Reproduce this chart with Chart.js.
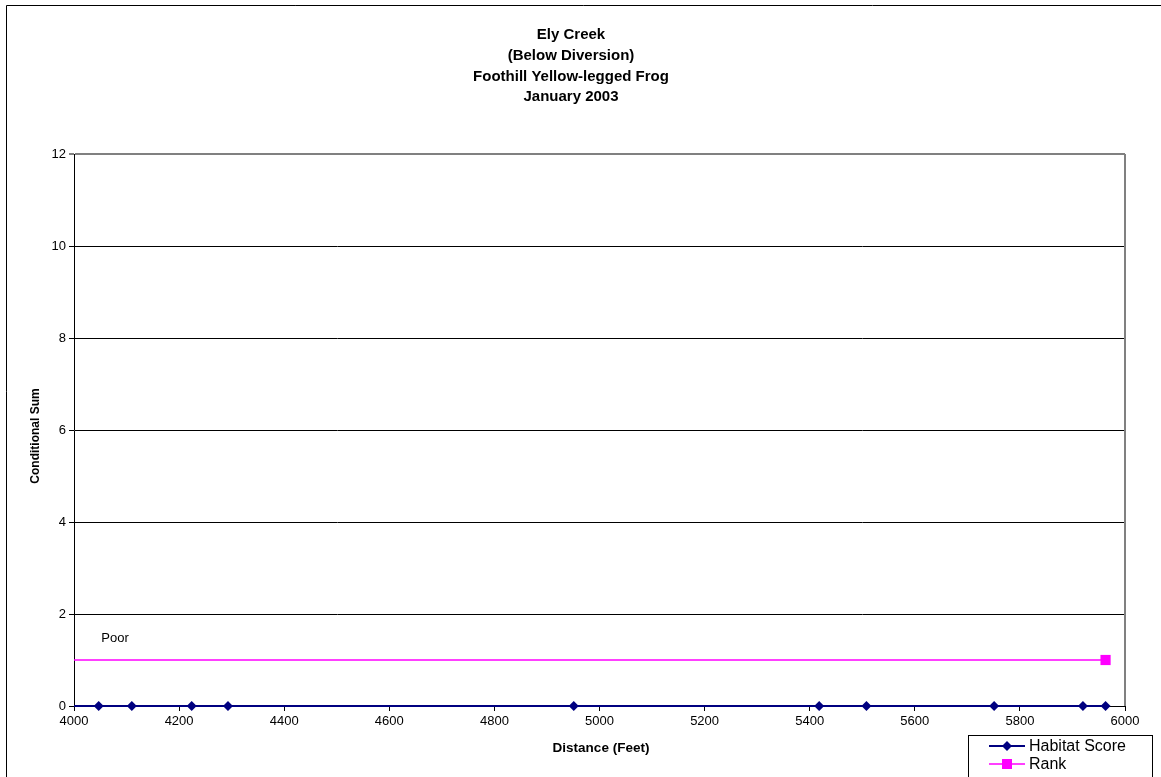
<!DOCTYPE html>
<html>
<head>
<meta charset="utf-8">
<script src="https://cdn.jsdelivr.net/npm/chart.js@4.4.0/dist/chart.umd.min.js"></script>
<style>
  html, body { margin: 0; padding: 0; background: #fff; }
  #wrap { width: 1161px; height: 777px; position: relative; }
</style>
</head>
<body>
<div id="wrap"><canvas id="frogChart" width="1161" height="777"></canvas></div>
<script>
const titleLines = ['Ely Creek', '(Below Diversion)', 'Foothill Yellow-legged Frog', 'January 2003'];
const xTitle = 'Distance (Feet)';
const yTitle = 'Conditional Sum';

// habitat score: distance (ft) vs score
const habitatX = [4000, 4047, 4110, 4224, 4293, 4951, 5418, 5508, 5751, 5920, 5963];
const habitatY = [0, 0, 0, 0, 0, 0, 0, 0, 0, 0, 0];
const habitatMarker = [false, true, true, true, true, true, true, true, true, true, true];

// rank line
const rankX = [4000, 5963];
const rankY = [1, 1];
const rankMarker = [false, true];
const rankLabel = 'Poor';
const rankLabelAt = [4050, 1.5];

const xMin = 4000, xMax = 6000, xStep = 200;
const yMin = 0, yMax = 12, yStep = 2;

const navy = '#000080';
const magenta = '#FF00FF';
const font = '"Liberation Sans", Arial, sans-serif';

// chart area left/right/top/bottom in px
const area = { left: 74, right: 1125, top: 154, bottom: 706 };

const decorPlugin = {
  id: 'decor',
  afterDraw(chart) {
    const ctx = chart.ctx;
    const ca = chart.chartArea;
    const xs = chart.scales.x, ys = chart.scales.y;
    ctx.save();

    // outer frame
    ctx.strokeStyle = '#000';
    ctx.lineWidth = 1;
    ctx.beginPath();
    ctx.moveTo(6.5, 777);
    ctx.lineTo(6.5, 5.5);
    ctx.lineTo(1161, 5.5);
    ctx.stroke();

    // plot area right border
    ctx.strokeStyle = '#808080';
    ctx.lineWidth = 2;
    ctx.beginPath();
    ctx.moveTo(ca.right, ca.top);
    ctx.lineTo(ca.right, ca.bottom);
    ctx.stroke();

    // titles
    ctx.fillStyle = '#000';
    ctx.font = 'bold 15px ' + font;
    ctx.textAlign = 'center';
    ctx.textBaseline = 'middle';
    titleLines.forEach((t, i) => ctx.fillText(t, 571, 35 + i * 20.7));

    // axis titles
    ctx.font = 'bold 13.5px ' + font;
    ctx.fillText(xTitle, 601, 748);
    ctx.font = 'bold 12px ' + font;
    ctx.save();
    ctx.translate(36, 436);
    ctx.rotate(-Math.PI / 2);
    ctx.fillText(yTitle, 0, 0);
    ctx.restore();

    // rank label
    ctx.font = '13px ' + font;
    ctx.textAlign = 'left';
    ctx.fillText(rankLabel, xs.getPixelForValue(rankLabelAt[0]) + 1, ys.getPixelForValue(rankLabelAt[1]) + 1);

    // legend
    ctx.fillStyle = '#fff';
    ctx.fillRect(968, 735, 184, 42);
    ctx.strokeStyle = '#000';
    ctx.lineWidth = 1;
    ctx.strokeRect(968.5, 735.5, 184, 42);
    const rows = [
      { label: 'Habitat Score', color: navy, shape: 'diamond', y: 746 },
      { label: 'Rank', color: magenta, shape: 'square', y: 764 }
    ];
    rows.forEach(r => {
      ctx.strokeStyle = r.color;
      ctx.lineWidth = r.shape === 'diamond' ? 2 : 1.5;
      ctx.beginPath();
      ctx.moveTo(989, r.y);
      ctx.lineTo(1025, r.y);
      ctx.stroke();
      ctx.fillStyle = r.color;
      ctx.beginPath();
      if (r.shape === 'diamond') {
        ctx.moveTo(1007, r.y - 5);
        ctx.lineTo(1012, r.y);
        ctx.lineTo(1007, r.y + 5);
        ctx.lineTo(1002, r.y);
        ctx.closePath();
      } else {
        ctx.rect(1002, r.y - 5, 10, 10);
      }
      ctx.fill();
      ctx.fillStyle = '#000';
      ctx.font = '16px ' + font;
      ctx.textAlign = 'left';
      ctx.fillText(r.label, 1029, r.y + 1);
    });

    ctx.restore();
  }
};

new Chart(document.getElementById('frogChart').getContext('2d'), {
  type: 'scatter',
  data: {
    datasets: [
      {
        label: 'Rank',
        data: rankX.map((x, i) => ({ x: x, y: rankY[i] })),
        showLine: true,
        borderColor: magenta,
        backgroundColor: magenta,
        borderWidth: 1.5,
        pointStyle: 'rect',
        pointRadius: rankMarker.map(m => m ? 7.2 : 0),
        pointHoverRadius: rankMarker.map(m => m ? 7.2 : 0),
        pointBorderWidth: 0,
        clip: false,
        order: 2
      },
      {
        label: 'Habitat Score',
        data: habitatX.map((x, i) => ({ x: x, y: habitatY[i] })),
        showLine: true,
        borderColor: navy,
        backgroundColor: navy,
        borderWidth: 2,
        pointStyle: 'rectRot',
        pointRadius: habitatMarker.map(m => m ? 5 : 0),
        pointHoverRadius: habitatMarker.map(m => m ? 5 : 0),
        pointBorderWidth: 0,
        clip: false,
        order: 1
      }
    ]
  },
  options: {
    responsive: false,
    animation: false,
    events: [],
    layout: {
      padding: { left: 6, right: 1161 - area.right, top: area.top, bottom: 777 - area.bottom - 50 }
    },
    plugins: {
      legend: { display: false },
      title: { display: false },
      tooltip: { enabled: false }
    },
    scales: {
      x: {
        type: 'linear',
        min: xMin,
        max: xMax,
        afterFit(scale) { scale.height = 50; },
        ticks: {
          stepSize: xStep,
          color: '#000',
          font: { family: font, size: 13 },
          padding: 3,
          maxRotation: 0,
          callback: v => String(v)
        },
        grid: {
          display: true,
          drawOnChartArea: false,
          drawTicks: true,
          tickLength: 5,
          color: '#000'
        },
        border: { display: true, color: '#000', width: 1 }
      },
      y: {
        type: 'linear',
        min: yMin,
        max: yMax,
        afterFit(scale) { scale.width = area.left - 6; },
        ticks: {
          stepSize: yStep,
          color: '#000',
          font: { family: font, size: 13 },
          padding: 3,
          callback: v => String(v)
        },
        grid: {
          display: true,
          drawTicks: true,
          tickLength: 5,
          color: ctx => ctx.tick && ctx.tick.value === yMax ? '#808080' : '#000',
          lineWidth: ctx => ctx.tick && ctx.tick.value === yMax ? 2 : 1
        },
        border: { display: true, color: '#000', width: 1 }
      }
    }
  },
  plugins: [decorPlugin]
});
</script>
</body>
</html>
